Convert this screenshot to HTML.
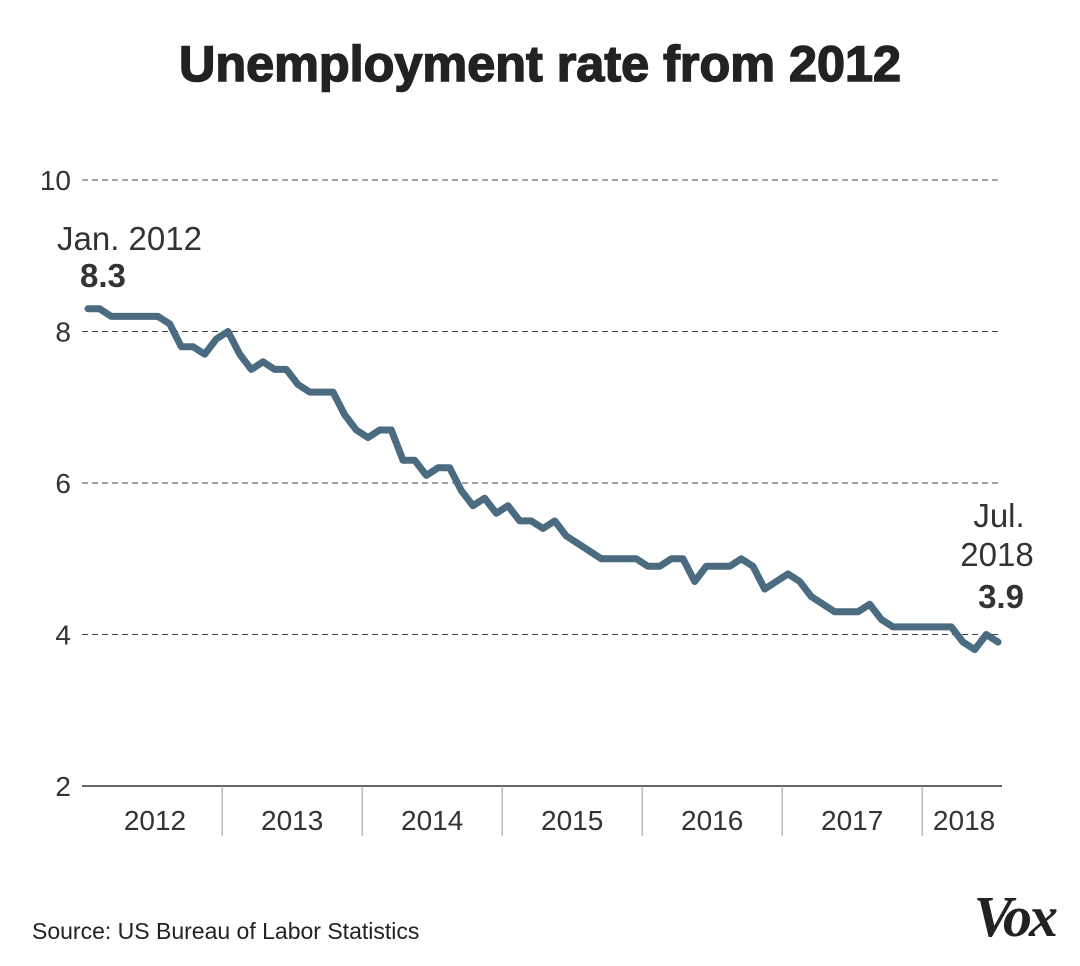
<!DOCTYPE html>
<html><head><meta charset="utf-8">
<style>
body{margin:0;background:#fff;width:1080px;height:966px;overflow:hidden;font-family:"Liberation Sans",sans-serif;}
svg{display:block}
</style></head>
<body>
<svg id="chart" width="1080" height="966" xmlns="http://www.w3.org/2000/svg">
<text x="540" y="81" text-anchor="middle" font-size="50" font-weight="bold" fill="#222" font-family="Liberation Sans, sans-serif" stroke="#222" stroke-width="1.5" textLength="722" lengthAdjust="spacingAndGlyphs">Unemployment rate from 2012</text>
<g id="grid"></g>
<g id="xaxis"></g>
<polyline id="line" fill="none" stroke="#4a6b80" stroke-width="7" stroke-linejoin="round" stroke-linecap="round"/>
<g font-family="Liberation Sans, sans-serif" fill="#333">
<text x="57" y="250" font-size="33">Jan. 2012</text>
<text x="80" y="287" font-size="33" font-weight="bold">8.3</text>
</g>
<g font-family="Liberation Sans, sans-serif" fill="#333" text-anchor="middle">
<text x="999" y="527" font-size="33">Jul.</text>
<text x="997" y="566" font-size="33">2018</text>
<text x="1001" y="608" font-size="33" font-weight="bold">3.9</text>
</g>
<text x="32" y="939" font-size="23" fill="#222">Source: US Bureau of Labor Statistics</text>
<text x="1055" y="936" text-anchor="end" font-size="58" font-weight="bold" font-style="italic" font-family="Liberation Serif, serif" fill="#222" letter-spacing="-3">Vox</text>
</svg>
<script>
const years = ["2012","2013","2014","2015","2016","2017","2018"];
const yTicks = [2,4,6,8,10];
const rates = [8.3,8.3,8.2,8.2,8.2,8.2,8.2,8.1,7.8,7.8,7.7,7.9,
8.0,7.7,7.5,7.6,7.5,7.5,7.3,7.2,7.2,7.2,6.9,6.7,
6.6,6.7,6.7,6.3,6.3,6.1,6.2,6.2,5.9,5.7,5.8,5.6,
5.7,5.5,5.5,5.4,5.5,5.3,5.2,5.1,5.0,5.0,5.0,5.0,
4.9,4.9,5.0,5.0,4.7,4.9,4.9,4.9,5.0,4.9,4.6,4.7,
4.8,4.7,4.5,4.4,4.3,4.3,4.3,4.4,4.2,4.1,4.1,4.1,
4.1,4.1,4.1,3.9,3.8,4.0,3.9];
const NS="http://www.w3.org/2000/svg";
const x0=88, step=(998-88)/78;
const xs=i=>x0+i*step;
const ys=v=>786-(v-2)*75.75;
const grid=document.getElementById('grid');
yTicks.forEach(t=>{
  const l=document.createElementNS(NS,'line');
  
  
  l.setAttribute('x1',82);l.setAttribute('x2',1002);
  l.setAttribute('y1',ys(t));l.setAttribute('y2',ys(t));
  l.setAttribute('stroke',t===2?'#333':'#444');
  l.setAttribute('stroke-width',t===2?1.5:1);
  if(t!==2) l.setAttribute('stroke-dasharray','6,4');
  grid.appendChild(l);
  const tx=document.createElementNS(NS,'text');
  
  
  tx.setAttribute('x',71);tx.setAttribute('y',ys(t)+10);
  tx.setAttribute('text-anchor','end');tx.setAttribute('font-size','28');tx.setAttribute('fill','#333');
  tx.textContent=t;grid.appendChild(tx);
});
const xa=document.getElementById('xaxis');
years.forEach((y,i)=>{
  const start=Math.max(i*12-0.5,-0.5), end=Math.min(i*12+11.5,78+0.5);
  const cx=i===0?155:(i===6?(xs(start)+1002)/2+2:(xs(start)+xs(end))/2);
  const tx=document.createElementNS(NS,'text');
  
  
  tx.setAttribute('x',cx);tx.setAttribute('y',830);
  tx.setAttribute('text-anchor','middle');tx.setAttribute('font-size','28');tx.setAttribute('fill','#333');
  tx.textContent=y;xa.appendChild(tx);
  if(i>0){
    const l=document.createElementNS(NS,'line');
    
    
    l.setAttribute('x1',xs(i*12-0.5));l.setAttribute('x2',xs(i*12-0.5));
    l.setAttribute('y1',786);l.setAttribute('y2',836);
    l.setAttribute('stroke','#999');l.setAttribute('stroke-width',1);
    xa.appendChild(l);
  }
});
document.getElementById('line').setAttribute('points',rates.map((v,i)=>xs(i).toFixed(1)+','+ys(v).toFixed(1)).join(' '));
</script>
</body></html>
